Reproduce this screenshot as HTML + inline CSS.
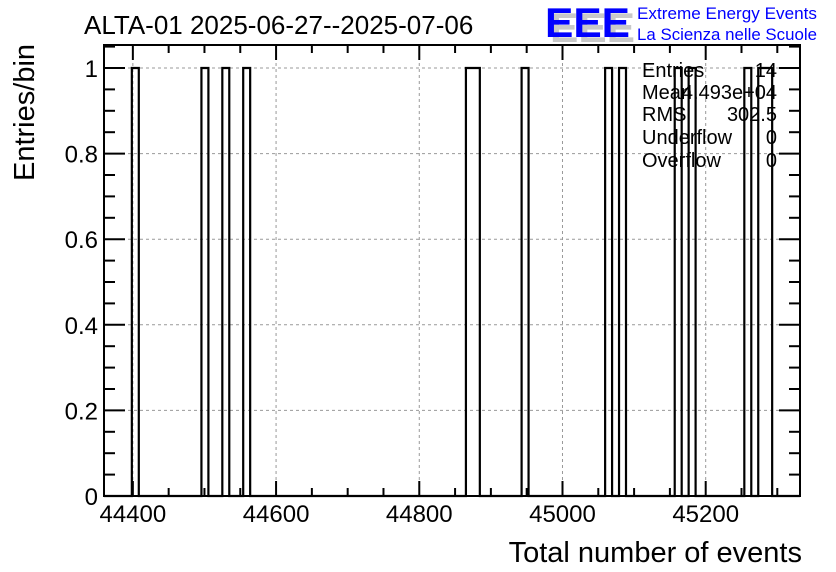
<!DOCTYPE html>
<html><head><meta charset="utf-8"><style>
html,body{margin:0;padding:0;background:#fff;}
svg{display:block;font-family:"Liberation Sans",sans-serif;}
</style></head><body>
<svg id="c" width="836" height="572" xmlns="http://www.w3.org/2000/svg">
<rect width="836" height="572" fill="#fff"/>
<text x="84" y="34" font-size="26">ALTA-01 2025-06-27--2025-07-06</text>
<g>
<text x="550" y="42" font-size="42" font-weight="bold" fill="#c8c8c8" textLength="85" lengthAdjust="spacingAndGlyphs">EEE</text>
<text x="545" y="37" font-size="42" font-weight="bold" fill="#0000ff" textLength="85" lengthAdjust="spacingAndGlyphs">EEE</text>
<text x="637" y="19" font-size="17" fill="#0000ff" textLength="180" lengthAdjust="spacingAndGlyphs">Extreme Energy Events</text>
<text x="637" y="40" font-size="17" fill="#0000ff" textLength="180" lengthAdjust="spacingAndGlyphs">La Scienza nelle Scuole</text>
</g>
<g id="grid"></g>
<g id="bars"></g>
<g id="axes"></g>
<g font-size="20">
<text x="642" y="77">Entries</text><text x="777" y="77" text-anchor="end">14</text>
<text x="642" y="99">Mean</text><text x="777" y="99" text-anchor="end">4.493e+04</text>
<text x="642" y="121">RMS</text><text x="777" y="121" text-anchor="end">302.5</text>
<text x="642" y="144">Underflow</text><text x="777" y="144" text-anchor="end">0</text>
<text x="642" y="167">Overflow</text><text x="777" y="167" text-anchor="end">0</text>
</g>
<text x="802" y="562" font-size="29" text-anchor="end">Total number of events</text>
<text transform="translate(34,181) rotate(-90)" font-size="29">Entries/bin</text>
</svg>
<script>
const binLow = 44359.7;
const binWidth = 9.72;
const nBins = 100;
const filledBins = [4,14,17,20,52,53,60,72,74,82,84,92,94,95];
const binCounts = [1,1,1,1,1,1,1,1,1,1,1,1,1,1];
const xTicks = [44400,44600,44800,45000,45200];
const yTicks = [0,0.2,0.4,0.6,0.8,1];
const yTickLabels = ["0","0.2","0.4","0.6","0.8","1"];

const L=104,R=800,T=45,B=496;
const xMin=binLow, xMax=binLow+nBins*binWidth;
const X=v=>L+(v-xMin)/(xMax-xMin)*(R-L);
const Y=v=>B-v*(B-68);
const NS="http://www.w3.org/2000/svg";
function mk(tag,attrs,parent){const e=document.createElementNS(NS,tag);for(const k in attrs)e.setAttribute(k,attrs[k]);parent.appendChild(e);return e;}
const grid=document.getElementById('grid'),bars=document.getElementById('bars'),axes=document.getElementById('axes');
xTicks.forEach(v=>{const l=mk('line',{x1:X(v),x2:X(v),y1:T,y2:B,stroke:'#999','stroke-dasharray':'3,3','stroke-width':1},grid);

});
yTicks.forEach(v=>{if(v===0)return;const l=mk('line',{x1:L,x2:R,y1:Y(v),y2:Y(v),stroke:'#999','stroke-dasharray':'3,3','stroke-width':1},grid);

});
const counts=new Array(nBins).fill(0);
filledBins.forEach((b,i)=>{counts[b]+=binCounts[i];});
let d='M'+L+','+B;let prev=0;
for(let i=0;i<nBins;i++){const x0=X(binLow+i*binWidth),x1=X(binLow+(i+1)*binWidth);
 if(counts[i]!==prev){d+=' L'+x0+','+Y(counts[i]);prev=counts[i];}
 d+=' L'+x1+','+Y(counts[i]);}
d+=' L'+R+','+B;
const hp=mk('path',{d:d,fill:'none',stroke:'#000','stroke-width':2.2},bars);


const fr=mk('rect',{x:L,y:T,width:R-L,height:B-T,fill:'none',stroke:'#000','stroke-width':2},axes);


for(let v=44350;v<=xMax;v+=50){if(v<xMin)continue;const major=(v%200===0);const len=major?15:8;
 mk('line',{x1:X(v),x2:X(v),y1:B,y2:B-len,stroke:'#000','stroke-width':2},axes);
 mk('line',{x1:X(v),x2:X(v),y1:T,y2:T+len,stroke:'#000','stroke-width':2},axes);}
xTicks.forEach(v=>{const t=mk('text',{x:X(v),y:522,'font-size':24,'text-anchor':'middle'},axes);t.textContent=v;

});
for(let k=0;k<=21;k++){const v=k*0.05;const y=Y(v);if(y<T)break;const major=(k%4===0);const len=major?21:11;
 mk('line',{x1:L,x2:L+len,y1:y,y2:y,stroke:'#000','stroke-width':2},axes);
 mk('line',{x1:R,x2:R-len,y1:y,y2:y,stroke:'#000','stroke-width':2},axes);}
yTicks.forEach((v,i)=>{const t=mk('text',{x:L-6,y:Y(v)+9,'font-size':24,'text-anchor':'end'},axes);t.textContent=yTickLabels[i];

});
</script>
</body></html>
